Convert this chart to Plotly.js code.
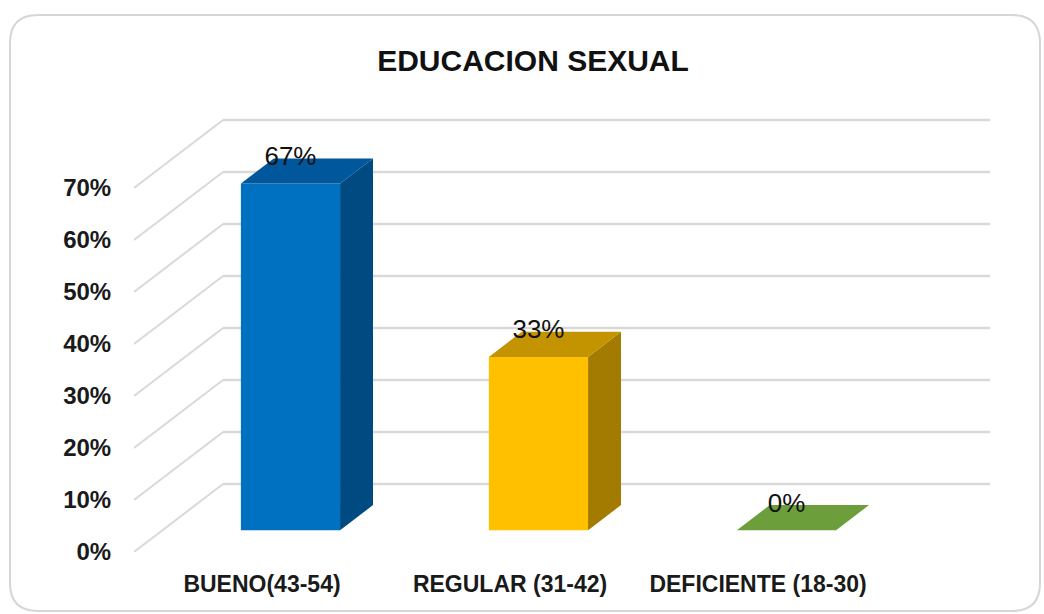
<!DOCTYPE html>
<html>
<head>
<meta charset="utf-8">
<script src="https://cdn.plot.ly/plotly-3.0.1.min.js"></script>
<style>
  html, body { margin: 0; padding: 0; background: #ffffff; }
  #chart { width: 1044px; height: 614px; }
</style>
</head>
<body>
<div id="chart"></div>
<script>
// ---- data ----
const categories = ['BUENO(43-54)', 'REGULAR (31-42)', 'DEFICIENTE (18-30)'];
const values = [66.67, 33.33, 0];
const valueLabels = ['67%', '33%', '0%'];
const yTickVals = [0, 10, 20, 30, 40, 50, 60, 70];
const yTickText = ['0%', '10%', '20%', '30%', '40%', '50%', '60%', '70%'];
const frontColors = ['#0070C0', '#FFC000', '#70AD47'];
const sideColors = ['#004A82', '#A37B00', '#4F7A32'];
const topColors = ['#00579C', '#C49300', '#6C9E3C'];

// ---- geometry / style (pixel layout) ----
const W = 1044, H = 614;
const M = { l: 134, r: 54, t: 100, b: 62 };
const plotW = W - M.l - M.r, plotH = H - M.t - M.b;
const pxPerUnitX = 248, pxPerUnitY = 5.2;
const xMin = -128 / pxPerUnitX;
const xMax = xMin + plotW / pxPerUnitX;
const yMin = 0, yMax = plotH / pxPerUnitY;
const depthX = 89 / pxPerUnitX;   // floor depth in x units
const depthY = 68 / pxPerUnitY;   // floor depth in y units
const d0 = 0.32, d1 = 0.69;       // bar front/back depth fraction
const barW = 0.40;
const FONT = 'Liberation Sans, Arial, Helvetica, sans-serif';

const traces = [];
// front faces: real bar trace
traces.push({
  type: 'bar',
  x: categories.map((c, i) => i + d0 * depthX),
  y: values,
  base: values.map(() => d0 * depthY),
  width: barW,
  marker: { color: frontColors, line: { width: 0 } },
  hoverinfo: 'skip',
  showlegend: false
});
// side and top faces
const dd = d1 - d0;
values.forEach((v, i) => {
  const xl = i + d0 * depthX - barW / 2;
  const xr = xl + barW;
  const b0 = d0 * depthY;
  const ox = dd * depthX, oy = dd * depthY;
  if (v > 0) {
    traces.push({
      type: 'scatter', mode: 'lines', fill: 'toself',
      x: [xr, xr + ox, xr + ox, xr, xr],
      y: [b0, b0 + oy, b0 + oy + v, b0 + v, b0],
      fillcolor: sideColors[i], line: { width: 0, color: sideColors[i] },
      hoverinfo: 'skip', showlegend: false
    });
  }
  traces.push({
    type: 'scatter', mode: 'lines', fill: 'toself',
    x: [xl, xr, xr + ox, xl + ox, xl],
    y: [b0 + v, b0 + v, b0 + v + oy, b0 + v + oy, b0 + v],
    fillcolor: topColors[i], line: { width: 0, color: topColors[i] },
    hoverinfo: 'skip', showlegend: false
  });
});
// value labels
traces.push({
  type: 'scatter', mode: 'text',
  x: values.map((v, i) => i + d0 * depthX),
  y: values.map(v => v + d1 * depthY),
  text: valueLabels,
  textposition: 'middle center',
  textfont: { family: FONT, size: 26, color: '#111111' },
  cliponaxis: false, hoverinfo: 'skip', showlegend: false
});

// gridlines on the left and back walls (from tick values)
const shapes = [];
const gridColor = '#d9d9d9';
yTickVals.forEach(v => {
  shapes.push({ type: 'line', xref: 'x', yref: 'y', layer: 'below',
    x0: xMin, y0: v, x1: xMin + depthX, y1: v + depthY,
    line: { color: gridColor, width: 2 } });
  shapes.push({ type: 'line', xref: 'x', yref: 'y', layer: 'below',
    x0: xMin + depthX, y0: v + depthY, x1: xMax, y1: v + depthY,
    line: { color: gridColor, width: 2.5 } });
});
// rounded chart border (pixel -> paper coordinates)
function px(xp) { return ((xp - M.l) / plotW).toFixed(5); }
function py(yp) { return (1 - (yp - M.t) / plotH).toFixed(5); }
const bx0 = 10, by0 = 15, bx1 = 1040, by1 = 611, rr = 28;
const borderPath =
  `M${px(bx0 + rr)},${py(by0)} L${px(bx1 - rr)},${py(by0)} Q${px(bx1)},${py(by0)} ${px(bx1)},${py(by0 + rr)} ` +
  `L${px(bx1)},${py(by1 - rr)} Q${px(bx1)},${py(by1)} ${px(bx1 - rr)},${py(by1)} ` +
  `L${px(bx0 + rr)},${py(by1)} Q${px(bx0)},${py(by1)} ${px(bx0)},${py(by1 - rr)} ` +
  `L${px(bx0)},${py(by0 + rr)} Q${px(bx0)},${py(by0)} ${px(bx0 + rr)},${py(by0)} Z`;
shapes.push({ type: 'path', xref: 'paper', yref: 'paper', layer: 'below',
  path: borderPath, line: { color: '#d6d6d6', width: 2 } });

const layout = {
  width: W, height: H,
  margin: M,
  paper_bgcolor: '#ffffff', plot_bgcolor: 'rgba(0,0,0,0)',
  showlegend: false,
  title: {
    text: 'EDUCACION SEXUAL',
    font: { family: FONT, size: 30, color: '#111111', weight: 'bold' },
    xref: 'container', yref: 'container',
    x: 533 / W, xanchor: 'center',
    y: 1 - 60 / H, yanchor: 'middle'
  },
  xaxis: {
    range: [xMin, xMax], showgrid: false, zeroline: false, showline: false,
    tickmode: 'array', tickvals: categories.map((c, i) => i), ticktext: categories,
    ticks: 'outside', ticklen: 11, tickcolor: 'rgba(0,0,0,0)',
    tickfont: { family: FONT, size: 23, color: '#1a1a1a', weight: 'bold' },
    fixedrange: true
  },
  yaxis: {
    range: [yMin, yMax], showgrid: false, zeroline: false, showline: false,
    tickmode: 'array', tickvals: yTickVals, ticktext: yTickText,
    ticks: 'outside', ticklen: 17, tickcolor: 'rgba(0,0,0,0)',
    tickfont: { family: FONT, size: 24, color: '#1a1a1a', weight: 'bold' },
    fixedrange: true
  },
  shapes: shapes
};

Plotly.newPlot('chart', traces, layout, { displayModeBar: false, staticPlot: true });
</script>
</body>
</html>
